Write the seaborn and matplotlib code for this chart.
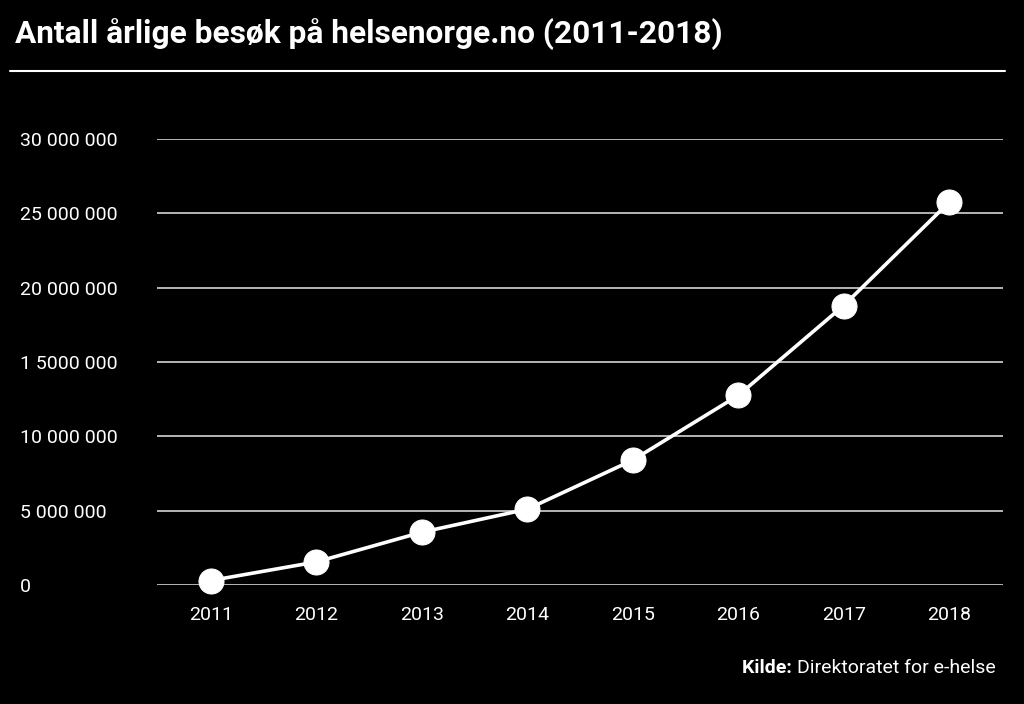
import matplotlib
matplotlib.use("Agg")
import matplotlib.pyplot as plt
import seaborn as sns
import pandas as pd

years = [2011, 2012, 2013, 2014, 2015, 2016, 2017, 2018]
visits = [300000, 1550000, 3550000, 5100000, 8400000, 12750000, 18800000, 25750000]
ytick_values = [0, 5000000, 10000000, 15000000, 20000000, 25000000, 30000000]
ytick_labels = ["0", "5 000 000", "10 000 000", "1 5000 000", "20 000 000", "25 000 000", "30 000 000"]
title = "Antall årlige besøk på helsenorge.no (2011-2018)"
source_bold = "Kilde:"
source_text = "Direktoratet for e-helse"

sns.set_theme(style="dark")
plt.rcParams['font.family'] = ['Roboto', 'DejaVu Sans']

df = pd.DataFrame({"year": years, "visits": visits})

fig = plt.figure(figsize=(10.24, 7.04), dpi=100, facecolor="black")
ax = fig.add_axes([157/1024, 1 - 585/704, (1003-157)/1024, (585-139)/704])
ax.set_facecolor("black")

sns.lineplot(data=df, x="year", y="visits", ax=ax, color="white", linewidth=2.6,
             marker="o", markersize=18, markeredgecolor="white", markerfacecolor="white",
             clip_on=False, zorder=5)

ax.set_xlim(2010.49, 2018.51)
ax.set_ylim(0, 30000000)
ax.set_yticks(ytick_values)
ax.set_yticklabels(ytick_labels)
ax.set_xticks(years)
ax.set_xticklabels([str(y) for y in years])
ax.grid(axis="y", color="#c4c4c4", linewidth=1.3)
ax.grid(axis="x", visible=False)
for s in ax.spines.values():
    s.set_visible(False)
ax.set_xlabel("")
ax.set_ylabel("")
ax.tick_params(axis="both", colors="white", labelsize=14, length=0)
ax.tick_params(axis="x", pad=15)
for lbl in ax.get_yticklabels():
    lbl.set_horizontalalignment("left")
ax.tick_params(axis="y", pad=137 * 72 / 100)

fig.text(15/1024, 1 - 35/704, title, color="white", fontsize=22.8, fontweight="bold",
         ha="left", va="center")
fig.add_artist(plt.Line2D([10/1024, 1005/1024], [1 - 71/704, 1 - 71/704],
                          color="white", linewidth=1.5, transform=fig.transFigure))

t = fig.text(996/1024, 1 - 668/704, source_text, color="white", fontsize=14,
             ha="right", va="center")
ann = ax.annotate(source_bold + " ", xy=(0, 0.5), xycoords=t, color="white",
                  fontsize=14, fontweight="bold", ha="right", va="center",
                  annotation_clip=False)

fig.savefig("out.png", dpi=100, facecolor="black")
